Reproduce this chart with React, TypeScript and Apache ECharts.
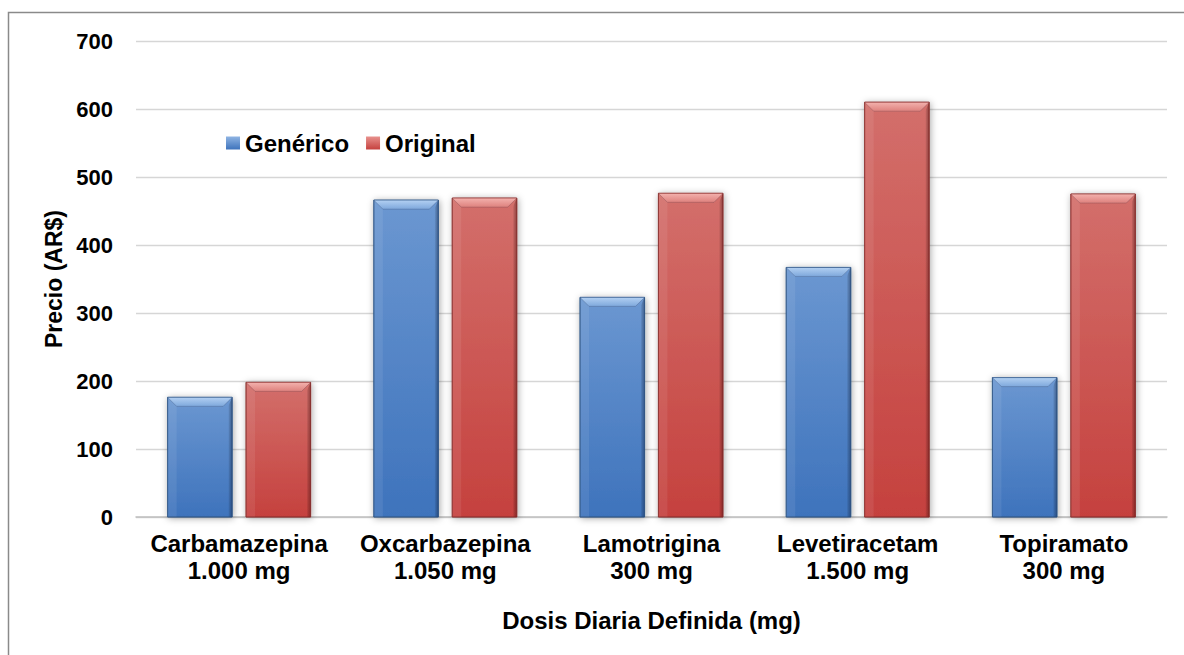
import React, { useEffect, useRef } from "react";
import * as echarts from "echarts";

// Drug / defined daily dose categories
const categories = [
  "Carbamazepina\n1.000 mg",
  "Oxcarbazepina\n1.050 mg",
  "Lamotrigina\n300 mg",
  "Levetiracetam\n1.500 mg",
  "Topiramato\n300 mg",
];

// Price in AR$ per defined daily dose
const genericoValues = [176, 466, 323, 367, 205];
const originalValues = [198, 469, 476, 610, 475];

const yTicks = [0, 100, 200, 300, 400, 500, 600, 700];

const FONT = "'Liberation Sans', Arial, Helvetica, sans-serif";
const BAR_RATIO = 0.313; // bar width as a share of the category band
const GAP_RATIO = 0.215; // gap between the pair, as a share of bar width

type Palette = {
  top: string;
  bottom: string;
  bevelHi: string;
  bevelLo: string;
  edge: string;
  shade: string;
};

const bluePalette: Palette = {
  top: "#6b97d1",
  bottom: "#3e73bc",
  bevelHi: "#b3d0f2",
  bevelLo: "#7ea8dc",
  edge: "#2f5586",
  shade: "rgba(18,40,78,0.45)",
};

const redPalette: Palette = {
  top: "#d36f6b",
  bottom: "#c5413e",
  bevelHi: "#f3b2ae",
  bevelLo: "#de817d",
  edge: "#8a2f2d",
  shade: "rgba(80,15,15,0.45)",
};

const vGrad = (a: string, b: string) =>
  new echarts.graphic.LinearGradient(0, 0, 0, 1, [
    { offset: 0, color: a },
    { offset: 1, color: b },
  ]);

// Beveled bar, placed beside its partner inside the category band
const bevelBar = (side: number, p: Palette) => (params: any, api: any) => {
  const idx = api.value(0);
  const val = api.value(1);
  const base = api.coord([idx, 0]);
  const top = api.coord([idx, val]);
  const band = api.size([1, 0])[0];
  const bw = band * BAR_RATIO;
  const gap = bw * GAP_RATIO;
  const cx = base[0] + (side * (bw + gap)) / 2;
  const x0 = cx - bw / 2;
  const x1 = cx + bw / 2;
  const y0 = top[1];
  const y1 = base[1];
  const b = Math.min(9, (y1 - y0) / 2);
  const r = 4;
  return {
    type: "group",
    children: [
      {
        type: "rect",
        shape: { x: x0, y: y0, width: bw, height: y1 - y0 },
        style: {
          fill: vGrad(p.top, p.bottom),
          stroke: p.edge,
          lineWidth: 0.8,
          shadowBlur: 7,
          shadowColor: "rgba(0,0,0,0.35)",
          shadowOffsetX: 1,
          shadowOffsetY: 1,
        },
      },
      {
        type: "polygon",
        shape: {
          points: [
            [x0, y0],
            [x0 + b, y0 + b],
            [x0 + b, y1],
            [x0, y1],
          ],
        },
        style: { fill: "rgba(255,255,255,0.08)" },
      },
      {
        type: "polygon",
        shape: {
          points: [
            [x1, y0],
            [x1, y1],
            [x1 - r, y1],
            [x1 - r, y0 + b],
          ],
        },
        style: {
          fill: new echarts.graphic.LinearGradient(0, 0, 1, 0, [
            { offset: 0, color: "rgba(0,0,0,0)" },
            { offset: 1, color: p.shade },
          ]),
        },
      },
      {
        type: "polygon",
        shape: {
          points: [
            [x0, y0],
            [x1, y0],
            [x1 - b, y0 + b],
            [x0 + b, y0 + b],
          ],
        },
        style: { fill: vGrad(p.bevelHi, p.bevelLo) },
      },
      {
        type: "polyline",
        shape: {
          points: [
            [x0, y0],
            [x0 + b, y0 + b],
            [x1 - b, y0 + b],
            [x1, y0],
          ],
        },
        style: { stroke: "rgba(30,30,50,0.18)", lineWidth: 1, fill: "none" },
      },
      {
        type: "rect",
        shape: { x: x0, y: y0, width: bw, height: y1 - y0 },
        style: { fill: "none", stroke: p.edge, lineWidth: 0.8, opacity: 0.8 },
      },
    ],
  };
};

export default function App() {
  const ref = useRef<HTMLDivElement>(null);

  useEffect(() => {
    if (!ref.current) return;
    const chart = echarts.init(ref.current, null, { renderer: "svg" });

    const legendColorBlue = vGrad("#8fb4e3", "#3e73bc");
    const legendColorRed = vGrad("#e8918d", "#c5413e");

    chart.setOption({
      animation: false,
      backgroundColor: "#ffffff",
      textStyle: { fontFamily: FONT },
      grid: { left: 136, right: 17, top: 41, bottom: 138, containLabel: false },
      legend: {
        left: 221,
        top: 126,
        itemWidth: 14,
        itemHeight: 13,
        itemGap: 17,
        icon: "rect",
        textStyle: {
          fontFamily: FONT,
          fontSize: 24,
          fontWeight: "bold",
          color: "#000",
        },
        data: [
          { name: "Genérico", itemStyle: { color: legendColorBlue } },
          { name: "Original", itemStyle: { color: legendColorRed } },
        ],
      },
      xAxis: {
        type: "category",
        data: categories,
        name: "Dosis Diaria Definida (mg)",
        nameLocation: "middle",
        nameGap: 91,
        nameTextStyle: {
          fontFamily: FONT,
          fontSize: 24,
          fontWeight: "bold",
          color: "#000",
        },
        axisLine: { lineStyle: { color: "#bfbfbf", width: 1.5 } },
        axisTick: { show: false },
        axisLabel: {
          interval: 0,
          margin: 13,
          fontFamily: FONT,
          fontSize: 24,
          fontWeight: "bold",
          lineHeight: 27,
          color: "#000",
        },
        splitLine: { show: false },
      },
      yAxis: {
        type: "value",
        min: yTicks[0],
        max: yTicks[yTicks.length - 1],
        interval: 100,
        name: "Precio (AR$)",
        nameLocation: "middle",
        nameGap: 67,
        nameRotate: 90,
        nameTextStyle: {
          fontFamily: FONT,
          fontSize: 23,
          fontWeight: "bold",
          color: "#000",
        },
        axisLine: { show: false },
        axisTick: { show: false },
        axisLabel: {
          margin: 23,
          fontFamily: FONT,
          fontSize: 22,
          fontWeight: "bold",
          color: "#000",
        },
        splitLine: { lineStyle: { color: "#d6d6d6", width: 1.4 } },
      },
      series: [
        {
          name: "Genérico",
          type: "custom",
          renderItem: bevelBar(-1, bluePalette),
          itemStyle: { color: legendColorBlue },
          encode: { x: 0, y: 1 },
          data: genericoValues.map((v, i) => [i, v]),
        },
        {
          name: "Original",
          type: "custom",
          renderItem: bevelBar(1, redPalette),
          itemStyle: { color: legendColorRed },
          encode: { x: 0, y: 1 },
          data: originalValues.map((v, i) => [i, v]),
        },
      ],
      graphic: [
        {
          type: "rect",
          silent: true,
          shape: { x: 8.5, y: 12.5, width: 1300, height: 800 },
          style: { fill: "none", stroke: "#8a8a8a", lineWidth: 1.5 },
        },
      ],
    });

    return () => chart.dispose();
  }, []);

  return (
    <div
      ref={ref}
      style={{ position: "fixed", left: 0, top: 0, width: 1184, height: 655 }}
    />
  );
}
